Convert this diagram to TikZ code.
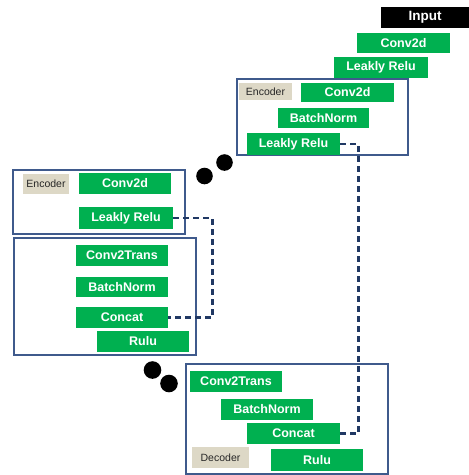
\documentclass[tikz,border=0pt]{standalone}
\usepackage{fontspec}
\setmainfont{Liberation Sans}
\definecolor{gfill}{HTML}{00B050}
\definecolor{bframe}{HTML}{3F5A8C}
\definecolor{dline}{HTML}{203864}
\definecolor{tanfill}{HTML}{DDD8C6}
\tikzset{
  gbox/.style={fill=gfill, text=white, font=\bfseries\fontsize{12.5}{14}\selectfont, inner sep=0pt, minimum width=#1pt},
  gbox/.default=92,
  lbl/.style={fill=tanfill, text=black!85, font=\fontsize{10.5}{12}\selectfont, inner sep=0pt},
  frame/.style={draw=bframe, line width=1.5pt},
  link/.style={draw=dline, line width=2.6pt, dash pattern=on 6pt off 4pt},
  dot/.style={fill=black}
}
\begin{document}
\begin{tikzpicture}[x=1pt,y=-1pt]
\useasboundingbox (0,0) rectangle (469,475);
\fill[white] (0,0) rectangle (469,475);
% frames
\draw[frame] (237,79) rectangle (408,155);
\draw[frame] (13,170) rectangle (185,234);
\draw[frame] (14,238) rectangle (196,355);
\draw[frame] (186,364) rectangle (388,474);
% top chain
\node[gbox=88, minimum height=21pt, fill=black, font=\bfseries\fontsize{13.5}{15}\selectfont] (inp) at (425,17.5) {Input};
\node[gbox=93, minimum height=20pt] (c0) at (403.5,43) {Conv2d};
\node[gbox=94, minimum height=21pt] (l0) at (381,67.5) {Leakly Relu};
% encoder 1
\node[lbl, minimum width=53pt, minimum height=17pt] (e1) at (265.5,91.5) {Encoder};
\node[gbox=93, minimum height=19pt] (c1) at (347.5,92.5) {Conv2d};
\node[gbox=91, minimum height=20pt] (b1) at (323.5,118) {BatchNorm};
\node[gbox=93, minimum height=22pt] (lr1) at (293.5,144) {Leakly Relu};
% encoder 2
\node[lbl, minimum width=46pt, minimum height=20pt] (e2) at (46,184) {Encoder};
\node[gbox=92, minimum height=21pt] (c2) at (125,183.5) {Conv2d};
\node[gbox=94, minimum height=22pt] (lr2) at (126,218) {Leakly Relu};
% decoder 2
\node[gbox=92, minimum height=21pt] (t2) at (122,255.5) {Conv2Trans};
\node[gbox=92, minimum height=20pt] (b2) at (122,287) {BatchNorm};
\node[gbox=92, minimum height=21pt] (cc2) at (122,317.5) {Concat};
\node[gbox=92, minimum height=21pt] (r2) at (143,341.5) {Rulu};
% decoder 3
\node[gbox=92, minimum height=21pt] (t3) at (236,381.5) {Conv2Trans};
\node[gbox=92, minimum height=21pt] (b3) at (267,409.5) {BatchNorm};
\node[gbox=93, minimum height=21pt] (cc3) at (293.5,433.5) {Concat};
\node[lbl, minimum width=57pt, minimum height=21pt] (d3) at (220.5,457.5) {Decoder};
\node[gbox=92, minimum height=22pt] (r3) at (317,460) {Rulu};
% skip links
\draw[link] (lr2.east) -- ++(39,0) |- (cc2.east);
\draw[link] (lr1.east) -- ++(18,0) |- (cc3.east);
% dots
\fill[dot] (204.5,176) circle (8.3);
\fill[dot] (224.5,162.5) circle (8.3);
\fill[dot] (152.5,370) circle (8.8);
\fill[dot] (169,383.5) circle (8.8);
\end{tikzpicture}
\end{document}
